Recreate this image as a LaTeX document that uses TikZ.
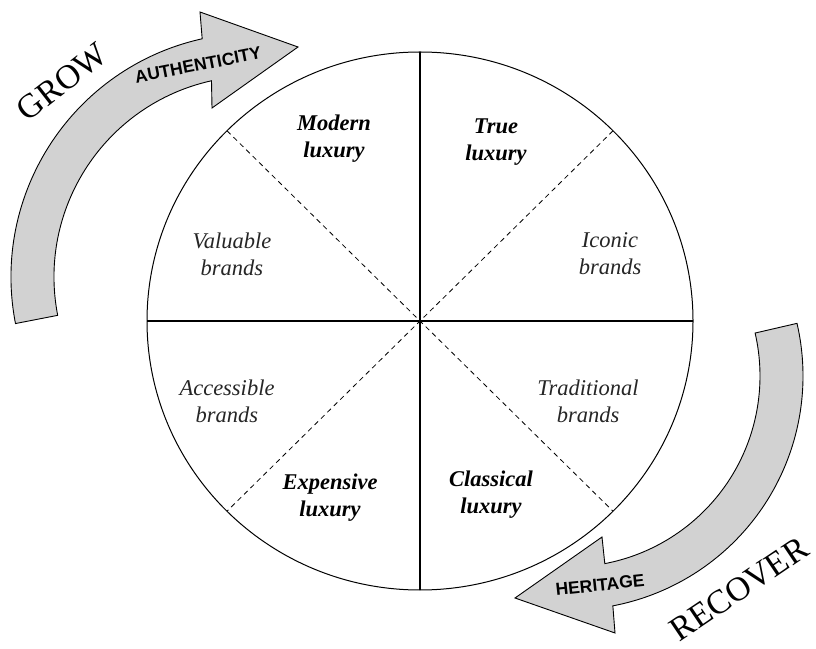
\documentclass[tikz,border=0pt]{standalone}
\usepackage{fontspec}
\setmainfont{Liberation Serif}
\setsansfont{Liberation Sans}
\usetikzlibrary{calc}
\begin{document}
\begin{tikzpicture}[x=1pt,y=1pt,
  band/.style={draw=black, line width=0.9pt, fill=gray!35, line join=miter},
  sector/.style={font=\fontsize{22.5}{27}\selectfont\itshape, text=black!85, align=center, inner sep=0pt},
  strong/.style={font=\fontsize{22.5}{27}\selectfont\bfseries\itshape, text=black, align=center, inner sep=0pt},
  bandlabel/.style={font=\sffamily\bfseries\fontsize{17.5}{17.5}\selectfont, inner sep=0pt},
  verb/.style={font=\fontsize{34}{34}\selectfont, inner sep=0pt},
  divider/.style={line width=1.8pt},
  spoke/.style={line width=0.8pt, dash pattern=on 5pt off 4pt}]
\useasboundingbox (0,0) rectangle (816,648);
\fill[white] (0,0) rectangle (816,648);

% centres of the wheel and of the two curved arrows
\coordinate (O) at (420,327);
\coordinate (g) at (255,371);
\coordinate (r) at (569,272);

% curved arrow, upper left
\draw[band] ([shift={(191:244)}]g) arc[start angle=191, end angle=102.5, radius=244]
  -- (200,636) -- (298,601) -- (212,540)
  -- ([shift={(102.5:201)}]g) arc[start angle=102.5, end angle=191, radius=201] -- cycle;

% curved arrow, lower right
\draw[band] ([shift={(13:234)}]r) arc[start angle=13, end angle=-79.2, radius=234]
  -- (615,15) -- (515,50) -- (602,111)
  -- ([shift={(-79.2:191)}]r) arc[start angle=-79.2, end angle=13, radius=191] -- cycle;

% the wheel
\draw[line width=1pt] (O) ellipse[x radius=273, y radius=269];
\draw[spoke] ([shift={(-193,190.2)}]O) -- ([shift={(193,-190.2)}]O);
\draw[spoke] ([shift={(193,190.2)}]O) -- ([shift={(-193,-190.2)}]O);
\draw[divider] ([xshift=-273pt]O) -- ([xshift=273pt]O);
\draw[divider] ([yshift=269pt]O) -- ([yshift=-269pt]O);

% sector labels
\node[strong] (modern) at (334,509) {Modern\\luxury};
\node[strong] (true) at (496,506) {True\\luxury};
\node[sector] (valuable) at (232,394) {Valuable\\brands};
\node[sector] (iconic) at (610,394) {Iconic\\brands};
\node[sector] (accessible) at (227,247) {Accessible\\brands};
\node[sector] (traditional) at (588,247) {Traditional\\brands};
\node[strong] (expensive) at (330,150) {Expensive\\luxury};
\node[strong] (classical) at (491,153) {Classical\\luxury};

% arrow labels
\node[bandlabel, rotate=11] (auth) at (198,583) {AUTHENTICITY};
\node[bandlabel, rotate=6] (heritage) at (600,63) {HERITAGE};
\node[verb, rotate=38] (grow) at (62,566) {GROW};
\node[verb, rotate=34] (recover) at (739,59) {RECOVER};
\end{tikzpicture}
\end{document}
